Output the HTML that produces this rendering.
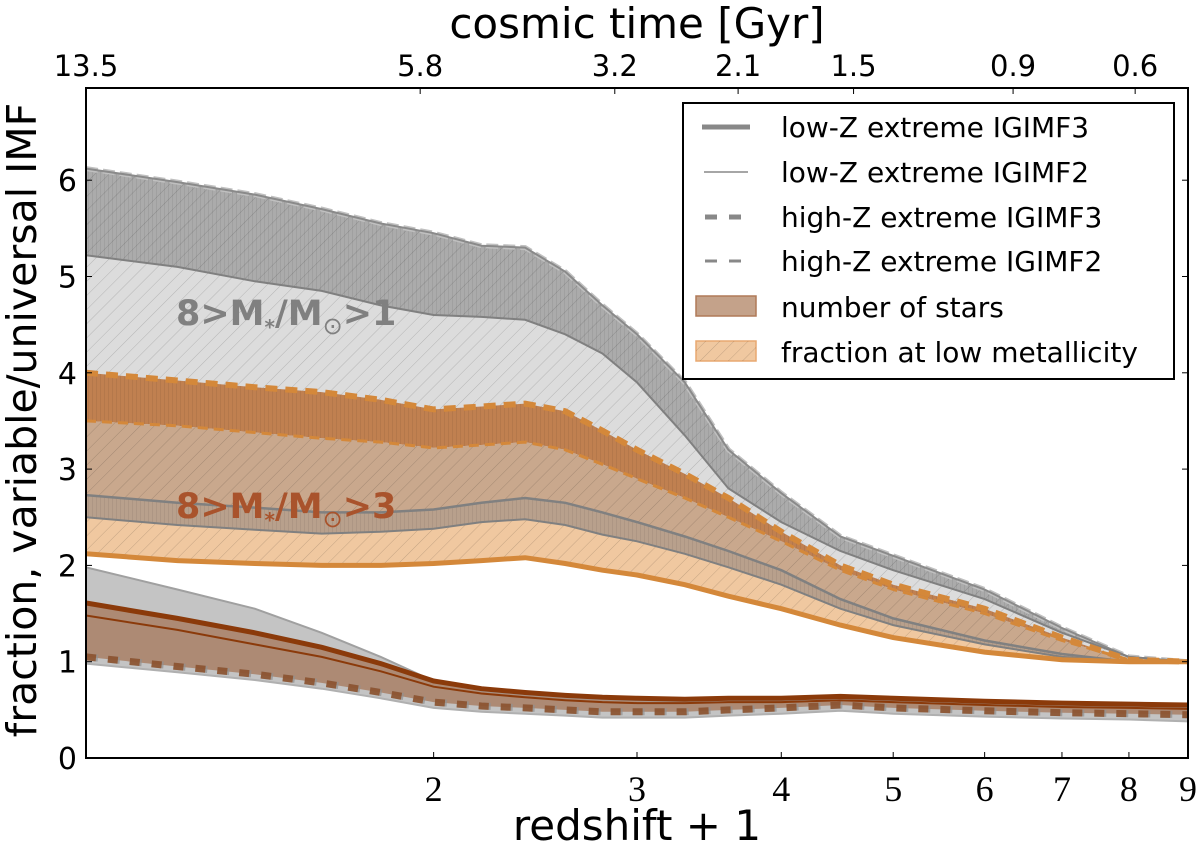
<!DOCTYPE html>
<html><head><meta charset="utf-8"><style>
body{margin:0;background:#fff}
svg{display:block;font-family:"DejaVu Sans","Liberation Sans",sans-serif}
</style></head><body>
<svg id="chart" width="1200" height="853" viewBox="0 0 1200 853">
<defs>
<pattern id="diag" width="10" height="10" patternUnits="userSpaceOnUse" patternTransform="rotate(45)"><line x1="0" y1="0" x2="0" y2="10" stroke="#000" stroke-opacity="0.18" stroke-width="1"/></pattern>
<pattern id="vert" width="4" height="10" patternUnits="userSpaceOnUse"><line x1="0" y1="0" x2="0" y2="10" stroke="#000" stroke-opacity="0.12" stroke-width="1"/></pattern>
<clipPath id="plotclip"><rect x="86" y="88" width="1102" height="670"/></clipPath>
</defs>
<g id="marks" clip-path="url(#plotclip)"></g>
<g id="axes"></g>
</svg>
<script>
const zp1 = [1, 1.2, 1.4, 1.6, 1.8, 2.0, 2.2, 2.4, 2.6, 2.8, 3.0, 3.3, 3.6, 4, 4.5, 5, 6, 7, 8, 9];
const grayTop   = [6.12,5.98,5.85,5.70,5.55,5.45,5.32,5.30,5.05,4.70,4.40,3.90,3.20,2.75,2.30,2.10,1.75,1.35,1.05,1.0];
const grayMid   = [5.22,5.10,4.95,4.85,4.70,4.60,4.58,4.55,4.40,4.20,3.90,3.35,2.80,2.45,2.15,1.95,1.65,1.30,1.05,1.0];
const orangeTop = [4.00,3.92,3.85,3.80,3.72,3.62,3.65,3.68,3.60,3.40,3.20,2.95,2.70,2.35,2.00,1.80,1.55,1.25,1.02,1.0];
const orangeMid = [3.50,3.45,3.38,3.32,3.28,3.22,3.25,3.28,3.20,3.05,2.90,2.70,2.50,2.25,1.95,1.75,1.50,1.22,1.02,1.0];
const grayLow1  = [2.73,2.65,2.60,2.55,2.55,2.58,2.65,2.70,2.65,2.55,2.45,2.30,2.15,1.95,1.65,1.45,1.22,1.08,1.0,1.0];
const grayLow2  = [2.50,2.42,2.37,2.33,2.35,2.38,2.45,2.48,2.42,2.32,2.25,2.12,1.98,1.80,1.55,1.38,1.18,1.05,1.0,1.0];
const orangeBot = [2.12,2.05,2.02,2.00,2.00,2.02,2.05,2.08,2.02,1.95,1.90,1.80,1.68,1.55,1.38,1.25,1.10,1.02,1.0,1.0];
const lowGrayTop  = [1.98,1.75,1.55,1.30,1.05,0.80,0.70,0.66,0.63,0.61,0.60,0.59,0.60,0.60,0.62,0.60,0.57,0.55,0.54,0.53];
const lowBrownTop = [1.61,1.45,1.30,1.15,0.98,0.80,0.72,0.68,0.65,0.63,0.62,0.61,0.62,0.62,0.64,0.62,0.59,0.57,0.56,0.55];
const lowBrownMid = [1.48,1.33,1.18,1.05,0.90,0.74,0.67,0.63,0.60,0.58,0.57,0.57,0.58,0.58,0.60,0.58,0.55,0.53,0.52,0.51];
const lowDash     = [1.05,0.95,0.87,0.78,0.68,0.58,0.54,0.52,0.50,0.48,0.48,0.48,0.50,0.52,0.55,0.52,0.49,0.47,0.46,0.45];
const lowGrayBot  = [0.98,0.89,0.81,0.72,0.62,0.52,0.48,0.46,0.44,0.42,0.42,0.42,0.44,0.46,0.49,0.46,0.43,0.41,0.40,0.38];
const bottomTicks = [2,3,4,5,6,7,8,9];
const yTicks = [0,1,2,3,4,5,6];
const topTickLabels = ["13.5","5.8","3.2","2.1","1.5","0.9","0.6"];
const topTickPos = [1,1.947,2.87,3.67,4.62,6.35,8.1];

const X0=86,X1=1188,Y0=758,PX=96.3;
const xs=v=>X0+Math.log(v)/Math.log(9)*(X1-X0);
const ys=v=>Y0-v*PX;
const NS='http://www.w3.org/2000/svg';
const marks=document.getElementById('marks'), axes=document.getElementById('axes');
function mk(tag,attrs,parent){const e=document.createElementNS(NS,tag);for(const k in attrs)e.setAttribute(k,attrs[k]);parent.appendChild(e);return e;}
function linePts(a){return zp1.map((z,i)=>xs(z).toFixed(1)+','+ys(a[i]).toFixed(1));}
function band(top,bot,fill,name,op){
  const d='M'+linePts(top).join('L')+'L'+linePts(bot).reverse().join('L')+'Z';
  const p=mk('path',{d:d,fill:fill,'fill-opacity':op===undefined?1:op},marks);
  
  
  return d;
}
function hatch(d,pat){const p=mk('path',{d:d,fill:'url(#'+pat+')'},marks);}
function line(a,color,w,dash,name,op){
  const p=mk('path',{d:'M'+linePts(a).join('L'),fill:'none',stroke:color,'stroke-width':w,'stroke-opacity':op||1},marks);
  if(dash)p.setAttribute('stroke-dasharray',dash);
  
  
}
let d;
d=band(grayTop,grayLow1,'#dcdcdc','light-gray-band');hatch(d,'diag');
d=band(grayTop,grayMid,'#ababab','dark-gray-band');hatch(d,'vert');hatch(d,'diag');
d=band(orangeTop,orangeMid,'#c08050','orange-dark-band');hatch(d,'vert');
d=band(orangeMid,grayLow1,'#c9a88d','number-of-stars-band');hatch(d,'diag');
d=band(grayLow1,grayLow2,'#b8a08c','gray-brown-band');hatch(d,'vert');
d=band(grayLow2,orangeBot,'#f0c8a0','fraction-low-metallicity-band');hatch(d,'diag');
line(grayTop,'#c0c0c0',5,'12,5','high-z-igimf3-upper');
line(grayTop,'#8a8a8a',2,null,'low-z-igimf3-upper');
line(grayMid,'#808080',2,null,'low-z-igimf2-upper');
line(orangeTop,'#d4883a',6,'12,8','orange-dashed-top');
line(orangeMid,'#d4883a',3,'10,6','orange-dashed-mid');
line(grayLow1,'#808080',2.5,null,'gray-line-lower1');
line(grayLow2,'#808080',2,null,'gray-line-lower2');
line(orangeBot,'#d4883a',5,null,'orange-solid-bottom');
band(lowGrayTop,lowGrayBot,'#b0b0b0','low-gray-band',0.75);
band(lowBrownTop,lowDash,'#a98066','low-brown-band',0.85);
line(lowGrayTop,'#a0a0a0',2,null,'low-gray-top');
line(lowBrownTop,'#8b3a0a',5,null,'low-brown-top');
line(lowBrownMid,'#8b3a0a',2,null,'low-brown-mid');
line(lowDash,'#909090',7,'12,10','low-gray-dash',0.7);
line(lowDash,'#8b4a20',7,'10,12','low-brown-dash',0.8);
line(lowGrayBot,'#b0b0b0',2,null,'low-gray-bottom');

function txt(x,y,s,attrs,name,parent){const t=mk('text',Object.assign({x:x,y:y},attrs),parent||axes);t.textContent=s;return t;}
const a1=txt(176,325,'',{fill:'#808080','font-size':35,'font-weight':'bold'},'mass-range-label-1');
a1.innerHTML='8&gt;M<tspan font-size="20" dy="9">*</tspan><tspan dy="-9">/M</tspan><tspan font-size="24" dy="9" font-weight="normal">⊙</tspan><tspan dy="-9">&gt;1</tspan>';
const a2=txt(176,518,'',{fill:'#a9532c','font-size':35,'font-weight':'bold'},'mass-range-label-2');
a2.innerHTML='8&gt;M<tspan font-size="20" dy="9">*</tspan><tspan dy="-9">/M</tspan><tspan font-size="24" dy="9" font-weight="normal">⊙</tspan><tspan dy="-9">&gt;3</tspan>';

const fr=mk('rect',{x:X0,y:88,width:X1-X0,height:Y0-88,fill:'none',stroke:'#000','stroke-width':2},axes);

bottomTicks.forEach(v=>{
  const x=xs(v);
  mk('line',{x1:x,y1:Y0,x2:x,y2:Y0-6,stroke:'#000','stroke-width':1},axes);
  txt(x,801,String(v),{'font-size':36,'text-anchor':'middle','font-family':'"Liberation Serif",serif'},'x-tick-label');
});
yTicks.forEach(v=>{
  const y=ys(v);
  mk('line',{x1:X0,y1:y,x2:X0+6,y2:y,stroke:'#000'},axes);
  mk('line',{x1:X1,y1:y,x2:X1-6,y2:y,stroke:'#000'},axes);
  txt(77,y+11,String(v),{'font-size':30,'text-anchor':'end'},'y-tick-label');
});
topTickPos.forEach((v,i)=>{
  const x=xs(v);
  mk('line',{x1:x,y1:88,x2:x,y2:94,stroke:'#000'},axes);
  txt(x,76,topTickLabels[i],{'font-size':29,'text-anchor':'middle'},'top-tick-label');
});
txt(637,840,'redshift + 1',{'font-size':42,'text-anchor':'middle'},'x-axis-title');
txt(637,38,'cosmic time [Gyr]',{'font-size':42,'text-anchor':'middle'},'top-axis-title');
txt(0,0,'fraction, variable/universal IMF',{'font-size':41,'text-anchor':'middle',transform:'translate(36,420) rotate(-90)'},'y-axis-title');

const lg=mk('g',{},axes);
mk('rect',{x:683,y:103,width:491,height:276,fill:'#fff',stroke:'#000','stroke-width':2},lg);
const ly=[127,172,217,261,307,352];
const ll=['low-Z extreme IGIMF3','low-Z extreme IGIMF2','high-Z extreme IGIMF3','high-Z extreme IGIMF2','number of stars','fraction at low metallicity'];
mk('line',{x1:702,y1:ly[0],x2:750,y2:ly[0],stroke:'#888','stroke-width':5},lg);
mk('line',{x1:704,y1:ly[1],x2:748,y2:ly[1],stroke:'#888','stroke-width':1.5},lg);
mk('line',{x1:705,y1:ly[2],x2:743,y2:ly[2],stroke:'#888','stroke-width':5,'stroke-dasharray':'12,12'},lg);
mk('line',{x1:705,y1:ly[3],x2:743,y2:ly[3],stroke:'#888','stroke-width':3,'stroke-dasharray':'12,12'},lg);
mk('rect',{x:696,y:296,width:60,height:20,fill:'#c4a28a',stroke:'#b07a58','stroke-width':1.5},lg);
mk('rect',{x:696,y:341,width:60,height:20,fill:'#f0c8a0',stroke:'#e8a870','stroke-width':1.5},lg);
mk('rect',{x:696,y:341,width:60,height:20,fill:'url(#diag)'},lg);
ll.forEach((s,i)=>{
  txt(781,ly[i]+10,s,{'font-size':28,textLength:0}.textLength?{}:{'font-size':28},'legend-entry',lg);
});
</script>
</body></html>
